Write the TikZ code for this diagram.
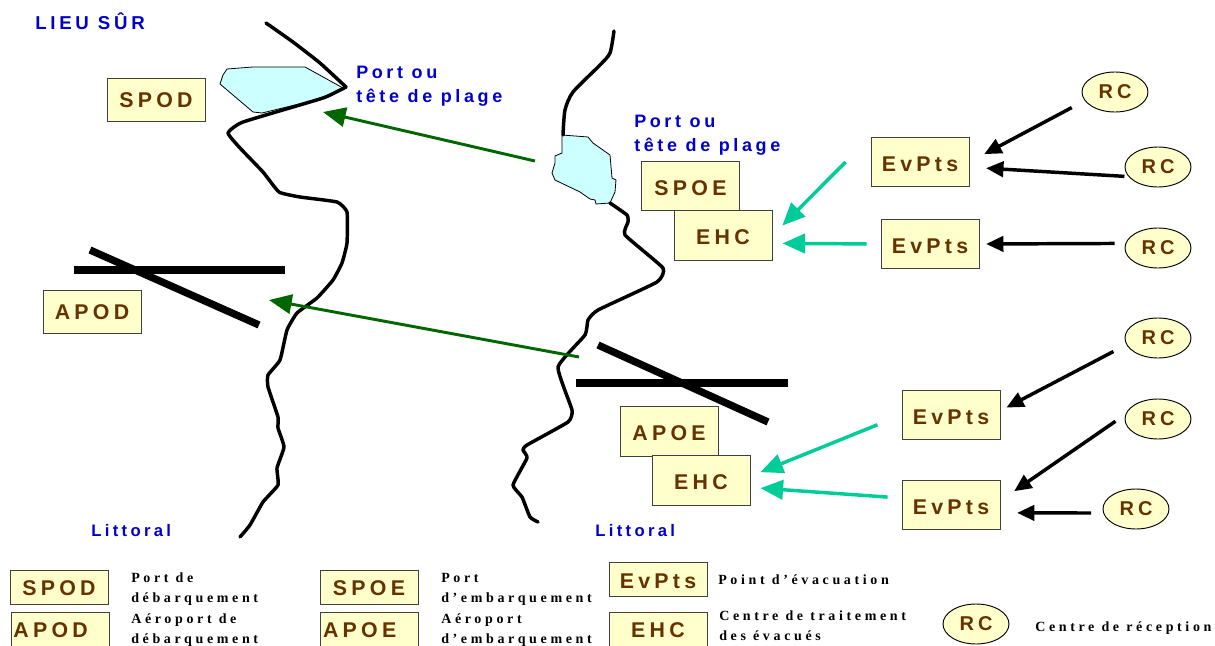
\documentclass[tikz,border=0pt]{standalone}
\usepackage{fontspec}
\setmainfont{Liberation Sans}
\newfontfamily\boxfont[LetterSpace=20]{Liberation Sans}
\newfontfamily\bluefont[LetterSpace=20]{Liberation Sans}
\newfontfamily\legendfont[LetterSpace=26]{Liberation Serif}
\usetikzlibrary{arrows.meta,shapes.geometric}
\definecolor{boxfill}{HTML}{FFFFCC}
\definecolor{boxtext}{HTML}{663300}
\definecolor{labelblue}{HTML}{0000CC}
\definecolor{seagreen}{HTML}{00CC99}
\definecolor{darkgreen}{HTML}{006600}
\definecolor{harbour}{HTML}{CCFFFF}

\begin{document}
\begin{tikzpicture}[x=0.75pt,y=-0.75pt,>={Triangle[length=17pt,width=14.5pt]},
	area box/.style={rectangle,draw=black!75,line width=0.7pt,fill=boxfill,text=boxtext,minimum width=73.5pt,minimum height=37pt,inner sep=0pt,text height=14pt,text depth=0pt,font=\boxfont\fontsize{16}{18}\selectfont\bfseries},
	small box/.style={area box,minimum height=25.5pt,text height=13pt},
	coast box/.style={area box,minimum height=32pt,text height=11.5pt,text depth=1pt},
	rc node/.style={ellipse,draw=black,line width=0.7pt,fill=boxfill,text=boxtext,minimum width=49.5pt,minimum height=30pt,inner sep=0pt,font=\boxfont\fontsize{15}{18}\selectfont\bfseries},
	blue label/.style={anchor=west,align=left,text=labelblue,inner sep=0pt,font=\bluefont\fontsize{13.5}{18}\selectfont\bfseries},
	legend text/.style={anchor=west,align=left,inner sep=0pt,font=\legendfont\fontsize{10.5}{15}\selectfont\bfseries},
	coast/.style={line width=2.6pt,line join=round,line cap=round},
	runway/.style={line width=5.5pt},
	pale arrow/.style={->,seagreen,line width=2.6pt},
	dark arrow/.style={-{Triangle[length=13pt,width=11.5pt]},black,line width=2.6pt},
	green arrow/.style={->,darkgreen,line width=2.2pt}]

	\useasboundingbox (0,0) rectangle (1215,646);

	% harbours and coast lines
	\draw[fill=harbour,line width=0.6pt] (227,69) -- (253,67) -- (305,67) -- (343,88) -- (320,99) -- (262,113) -- (253,112) -- (220,84) -- (223,75) -- cycle;
	\draw[fill=harbour,line width=0.6pt] (562,135) -- (588,137) -- (593,143) -- (610,155) -- (612,178) -- (616,180) -- (615,192) -- (610,203) -- (596,204) -- (595,200) -- (590,199) -- (580,192) -- (555,180) -- (552,173) -- (555,163) -- (555,156) -- (562,153) -- cycle;
	\draw[coast] plot[smooth,tension=0.25] coordinates {(266,23) (293,42) (320,63) (346,87)};
	\draw[coast] plot[smooth,tension=0.25] coordinates {(346,87) (323,98) (243,122) (228,133) (240,148) (263,172) (279,192) (300,197) (337,202) (347,212) (347,243) (342,263) (333,280) (317,298) (297,313) (287,330) (280,360) (268,375) (268,387) (278,417) (278,428) (284,447) (277,468) (278,485) (263,502) (250,525) (240,537)};
	\draw[coast] plot[smooth,tension=0.4] coordinates {(614,31) (610,53) (600,65) (573,92) (565,110) (563,135)};
	\draw[coast] plot[smooth,tension=0.25] coordinates {(610,203) (627,215) (628,222) (625,235) (663,268) (657,282) (598,310) (588,320) (585,335) (558,367) (572,410) (568,422) (527,445) (523,450) (527,458) (513,485) (522,497) (530,517) (538,522)};

	% runways
	\draw[runway] (74,270) -- (285,270);
	\draw[runway] (90,250) -- (259,325);
	\draw[runway] (576,383) -- (788,383);
	\draw[runway] (598,345) -- (768,422);

	\node[blue label,font=\bluefont\fontsize{14}{18}\selectfont\bfseries] (lieu) at (35,21) {LIEU SÛR};
	\node[blue label] (portsafe) at (356,86) {Port ou\\tête de plage};
	\node[blue label] (portembark) at (634,135) {Port ou\\tête de plage};
	\node[blue label,font=\bluefont\fontsize{12.5}{18}\selectfont\bfseries] (littoralsafe) at (91,531) {Littoral};
	\node[blue label,font=\bluefont\fontsize{12.5}{18}\selectfont\bfseries] (littoralembark) at (595,531) {Littoral};

	\node[coast box] (spod) at (156,100) {SPOD};
	\node[coast box] (apod) at (92,312) {APOD};
	\node[area box] (spoe) at (690.5,186) {SPOE};
	\node[area box] (ehcsea) at (723,235.5) {EHC};
	\node[area box] (apoe) at (669,431.5) {APOE};
	\node[area box] (ehcair) at (701,480.5) {EHC};

	\node[area box] (evone) at (920,162) {EvPts};
	\node[area box] (evtwo) at (930,244) {EvPts};
	\node[area box] (evthree) at (951,415) {EvPts};
	\node[area box] (evfour) at (951,505) {EvPts};

	\node[rc node] (rcone) at (1115,92) {RC};
	\node[rc node] (rctwo) at (1158,167) {RC};
	\node[rc node] (rcthree) at (1158,248) {RC};
	\node[rc node] (rcfour) at (1158,338) {RC};
	\node[rc node] (rcfive) at (1158,419) {RC};
	\node[rc node] (rcsix) at (1136,509) {RC};

	\coordinate (seafrom) at (535,161);
	\coordinate (seato) at (323,112);
	\coordinate (airfrom) at (579,357);
	\coordinate (airto) at (269,300);
	\draw[green arrow] (seafrom) -- (seato);
	\draw[green arrow] (airfrom) -- (airto);

	\draw[pale arrow,shorten <=26.5pt,shorten >=10.5pt] (evone.north west) -- (ehcsea.east);
	\draw[pale arrow,shorten <=10.5pt,shorten >=7.5pt] (evtwo.west) -- (ehcsea.-9);
	\draw[pale arrow,shorten <=19.5pt,shorten >=8pt] (evthree.west) -- (ehcair.5);
	\draw[pale arrow,shorten <=10.5pt,shorten >=7.5pt] (evfour.172) -- (ehcair.-8);

	\draw[dark arrow,shorten <=11pt,shorten >=12.5pt] (rcone.196) -- (evone.east);
	\draw[dark arrow,shorten <=3pt,shorten >=12.5pt] (rctwo.198) -- (evone.-6);
	\draw[dark arrow,shorten <=8pt,shorten >=5pt] (rcthree.172) -- (evtwo.east);
	\draw[dark arrow,shorten <=11pt,shorten >=5pt] (rcfour.192) -- (evthree.5);
	\draw[dark arrow,shorten <=9pt,shorten >=12.5pt] (rcfive.172) -- (evfour.5);
	\draw[dark arrow,shorten <=9pt,shorten >=12.5pt] (rcsix.187) -- (evfour.-9);

	% legend
	\node[small box] (legspod) at (59,587) {SPOD};
	\node[small box] (legapod) at (60,629) {APOD\hspace*{14pt}};
	\node[small box] (legspoe) at (369,587) {SPOE};
	\node[small box] (legapoe) at (369,629) {APOE\hspace*{14pt}};
	\node[small box] (legev) at (658,579.5) {EvPts};
	\node[small box] (legehc) at (658,629) {EHC};
	\node[rc node] (legrc) at (976,624) {RC};

	\node[legend text] (txtspod) at (131,589) {Port de\\débarquement};
	\node[legend text] (txtapod) at (131,630) {Aéroport de\\débarquement};
	\node[legend text] (txtspoe) at (441,589) {Port\\d’embarquement};
	\node[legend text] (txtapoe) at (441,630) {Aéroport\\d’embarquement};
	\node[legend text] (txtev) at (718,580) {Point d’évacuation};
	\node[legend text] (txtehc) at (719,626) {Centre de traitement\\des évacués};
	\node[legend text] (txtrc) at (1035,628) {Centre de réception};
\end{tikzpicture}
\end{document}
